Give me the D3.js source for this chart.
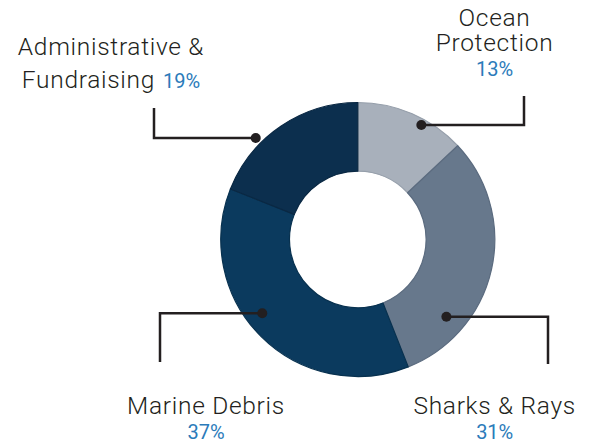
<!DOCTYPE html>
<html><head><meta charset="utf-8">
<script src="https://cdn.jsdelivr.net/npm/d3@7"></script>
<style>
html,body{margin:0;padding:0;background:#fff;}
svg{display:block;}
</style></head>
<body>
<svg id="chart" width="594" height="445"></svg>
<script>
// ---- data ----
const categories = ["Ocean Protection", "Sharks & Rays", "Marine Debris", "Administrative & Fundraising"];
const values = [13, 31, 37, 19];
const labelLines = [["Ocean", "Protection"], ["Sharks & Rays"], ["Marine Debris"], ["Administrative &", "Fundraising"]];

// ---- styles / layout ----
const fills = ["#a8b0bb", "#67788c", "#0b3a5e", "#0c2f4e"];
const strokes = ["#959eaa", "#5b6b7f", "#08314f", "#0a2843"];
const cx = 357.8, cy = 239.5, rOuter = 137, rInner = 68.3;
// leader layout: position of dot within slice (fraction of angular span, radius), elbow x, end y
const leaders = [
  {frac: 0.62, r: 131, elbowX: 524, endY: 96},
  {frac: 0.755, r: 117.5, elbowX: 548, endY: 364},
  {frac: 0.555, r: 120.7, elbowX: 160, endY: 362},
  {frac: 0.34, r: 144, elbowX: 154, endY: 108}
];
const labelPos = [
  {x: 494.5, y: 26, lineH: 24.5, pctInline: false},
  {x: 494.7, y: 414.3, lineH: 24.5, pctInline: false},
  {x: 206, y: 414.3, lineH: 24.5, pctInline: false},
  {x: 111, y: 55, lineH: 33, pctInline: true}
];
const textColor = "#231f20", pctColor = "#2b7bba";
const nameFont = 24.5, pctFont = 20;
const fontFamily = "Roboto, 'DejaVu Sans', sans-serif";

const svg = d3.select("#chart");
const pie = d3.pie().sort(null).value(d => d)(values);
const arc = d3.arc().innerRadius(rInner).outerRadius(rOuter);

const g = svg.append("g").attr("transform", `translate(${cx},${cy})`);
g.selectAll("path.slice").data(pie).join("path")
  .attr("class", "slice")
  .attr("d", arc)
  .attr("fill", (d, i) => fills[i])
  .attr("stroke", (d, i) => strokes[i])
  .attr("stroke-width", 1.2)
  .attr("stroke-linejoin", "round");

// leader lines
pie.forEach((d, i) => {
  const L = leaders[i];
  const a = d.startAngle + L.frac * (d.endAngle - d.startAngle);
  const x = cx + L.r * Math.sin(a), y = cy - L.r * Math.cos(a);
  const path = d3.path();
  path.moveTo(x, y); path.lineTo(L.elbowX, y); path.lineTo(L.elbowX, L.endY);
  svg.append("path").attr("d", path.toString())
    .attr("fill", "none").attr("stroke", textColor).attr("stroke-width", 2.5);
  svg.append("circle").attr("cx", x).attr("cy", y).attr("r", 5).attr("fill", textColor);
});

// labels
categories.forEach((c, i) => {
  const P = labelPos[i];
  const lines = labelLines[i];
  lines.forEach((ln, k) => {
    const t = svg.append("text")
      .attr("x", P.x).attr("y", P.y + k * P.lineH)
      .attr("text-anchor", "middle")
      .attr("font-family", fontFamily)
      .attr("font-weight", 300)
      .attr("fill", textColor)
      .attr("font-size", nameFont)
      .attr("letter-spacing", "0.7px");
    t.append("tspan").text(ln);
    if (P.pctInline && k === lines.length - 1) {
      t.append("tspan").attr("font-size", pctFont).attr("fill", pctColor)
        .attr("font-weight", 400).attr("letter-spacing", "0px")
        .attr("dx", 8).text(values[i] + "%");
    }
  });
  if (!P.pctInline) {
    svg.append("text")
      .attr("x", P.x).attr("y", P.y + (lines.length - 1) * P.lineH + 25)
      .attr("text-anchor", "middle")
      .attr("font-family", fontFamily)
      .attr("font-weight", 400)
      .attr("font-size", pctFont)
      .attr("fill", pctColor)
      .text(values[i] + "%");
  }
});
</script>
</body></html>
